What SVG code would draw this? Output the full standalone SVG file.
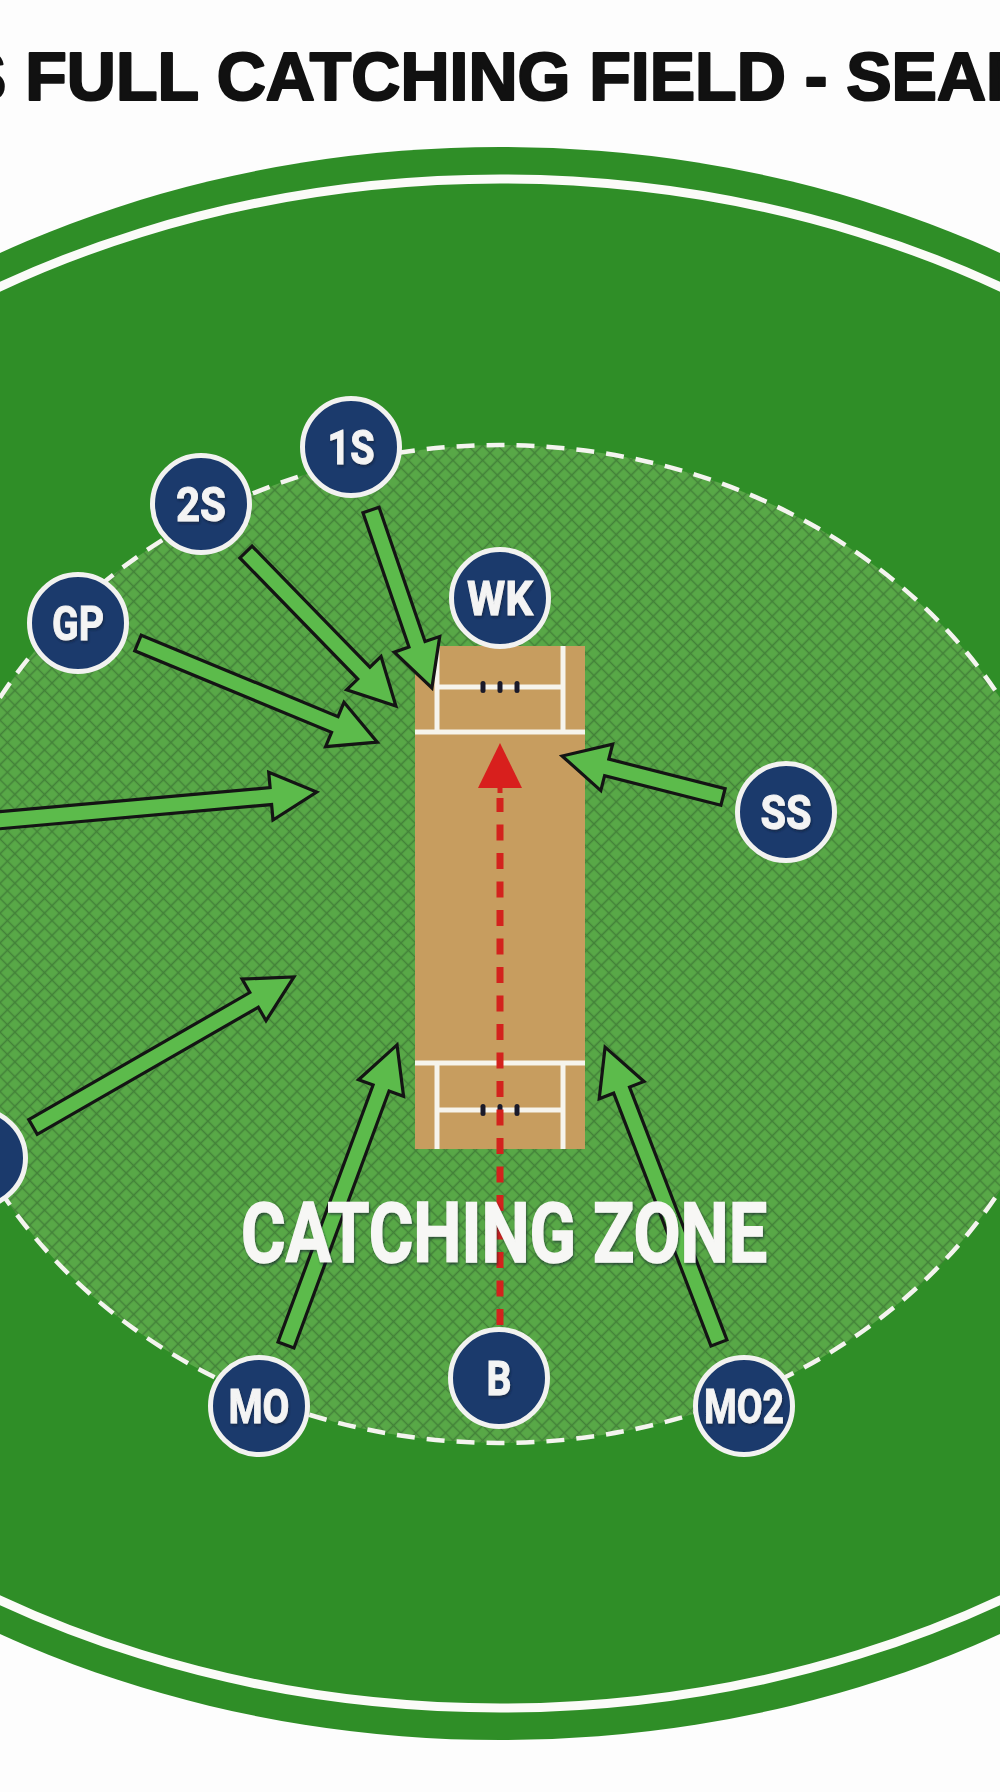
<svg xmlns="http://www.w3.org/2000/svg" width="1000" height="1792" viewBox="0 0 1000 1792">
<style>
.title{font-family:"Liberation Sans",Arial,sans-serif;font-weight:bold;font-size:68px;fill:#111;stroke:#111;stroke-width:2.2;stroke-linejoin:round}
.node circle{fill:#1b3a6c;stroke:#f2f2f0;stroke-width:5}
.node text{font-family:Roboto,"Liberation Sans",sans-serif;font-weight:bold;font-size:48px;fill:#f4f4f4;stroke:#f4f4f4;stroke-width:1;text-anchor:middle;filter:url(#ts)}
.arrow{fill:#5cbb4b;stroke:#141414;stroke-width:3.2;stroke-linejoin:miter}
.crease{stroke:#f6f4ec;stroke-width:5;fill:none}
.stump{fill:#1a1a2a}
.zone-label{font-family:Roboto,"Liberation Sans",sans-serif;font-weight:bold;font-size:83px;fill:#f7f7f5;stroke:#f7f7f5;stroke-width:1.5;filter:url(#ts)}
</style>
<defs>
<pattern id="hatch" width="10.5" height="10.5" patternUnits="userSpaceOnUse" patternTransform="rotate(45)">
<rect width="10.5" height="10.5" fill="#58a847"/>
<path d="M0 5.25H10.5M5.25 0V10.5" stroke="#3a7233" stroke-width="1.6" stroke-opacity="0.7"/>
</pattern>
<filter id="ts" x="-20%" y="-20%" width="140%" height="140%">
<feDropShadow dx="1" dy="2" stdDeviation="1" flood-color="#0a1a30" flood-opacity="0.6"/>
</filter>
</defs>
<rect width="1000" height="1792" fill="#fdfdfd"/>
<g id="title">
<text class="title" x="-39" y="100">S FULL CATCHING FIELD - SEAM</text>
</g>
<g id="field">
<ellipse cx="500" cy="943.5" rx="1003" ry="796.5" fill="#2f8e27"/>
<ellipse cx="500" cy="943.5" rx="976" ry="764.5" fill="none" stroke="#fbfbf8" stroke-width="9"/>
</g>
<g id="catching-zone">
<ellipse cx="500" cy="944" rx="575" ry="499" fill="url(#hatch)" stroke="#f4f4ef" stroke-width="4.5" stroke-dasharray="18 12"/>
</g>
<g id="pitch">
<rect x="415" y="646" width="170" height="503" fill="#c79d5f"/>
<path class="crease" d="M415 732H585M437 646V732M563 646V732M437 687H563"/>
<path class="crease" d="M415 1063H585M437 1063V1149M563 1063V1149M437 1110H563"/>
<rect class="stump" x="480.5" y="681" width="5" height="12" rx="2.5"/>
<rect class="stump" x="497.5" y="681" width="5" height="12" rx="2.5"/>
<rect class="stump" x="514.5" y="681" width="5" height="12" rx="2.5"/>
<rect class="stump" x="480.5" y="1104" width="5" height="12" rx="2.5"/>
<rect class="stump" x="497.5" y="1104" width="5" height="12" rx="2.5"/>
<rect class="stump" x="514.5" y="1104" width="5" height="12" rx="2.5"/>
</g>
<g id="connectors">
<g id="delivery-line">
<line x1="500" y1="1325" x2="500" y2="798" stroke="#d3221d" stroke-width="7" stroke-dasharray="16 12.5"/>
<rect x="497.5" y="785" width="5" height="8" fill="#d3221d"/>
<polygon points="500,743 522,788 478,788" fill="#d81f1d"/>
</g>
<polygon class="arrow" transform="translate(371,510) rotate(71.1)" points="0,-8.5 142,-8.5 142,-24 188,0 142,24 142,8.5 0,8.5"/>
<polygon class="arrow" transform="translate(246,552) rotate(45.8)" points="0,-8.5 169,-8.5 169,-24 215,0 169,24 169,8.5 0,8.5"/>
<polygon class="arrow" transform="translate(138,643) rotate(22.5)" points="0,-8.5 213,-8.5 213,-24 259,0 213,24 213,8.5 0,8.5"/>
<polygon class="arrow" transform="translate(-20,822) rotate(-5.09)" points="0,-8.5 292,-8.5 292,-24 338,0 292,24 292,8.5 0,8.5"/>
<polygon class="arrow" transform="translate(33,1127) rotate(-29.9)" points="0,-8.5 255,-8.5 255,-24 301,0 255,24 255,8.5 0,8.5"/>
<polygon class="arrow" transform="translate(286,1345) rotate(-69.7)" points="0,-8.5 274,-8.5 274,-24 320,0 274,24 274,8.5 0,8.5"/>
<polygon class="arrow" transform="translate(719,1343) rotate(-111.06)" points="0,-8.5 271,-8.5 271,-24 317,0 271,24 271,8.5 0,8.5"/>
<polygon class="arrow" transform="translate(723,797) rotate(-165.7)" points="0,-8.5 120,-8.5 120,-24 166,0 120,24 120,8.5 0,8.5"/>
</g>
<g id="zone-label">
<text class="zone-label" x="241" y="1262" textLength="526" lengthAdjust="spacingAndGlyphs">CATCHING ZONE</text>
</g>
<g id="node-1S" class="node"><circle cx="351" cy="447" r="48.5"/><text x="351" y="464" textLength="47" lengthAdjust="spacingAndGlyphs">1S</text></g>
<g id="node-2S" class="node"><circle cx="201" cy="504" r="48.5"/><text x="201" y="521" textLength="50" lengthAdjust="spacingAndGlyphs">2S</text></g>
<g id="node-GP" class="node"><circle cx="78" cy="623" r="48.5"/><text x="78" y="640" textLength="52" lengthAdjust="spacingAndGlyphs">GP</text></g>
<g id="node-WK" class="node"><circle cx="500" cy="598" r="48.5"/><text x="500" y="615" textLength="66" lengthAdjust="spacingAndGlyphs">WK</text></g>
<g id="node-SS" class="node"><circle cx="786" cy="812" r="48.5"/><text x="786" y="829" textLength="51" lengthAdjust="spacingAndGlyphs">SS</text></g>
<g id="node-B" class="node"><circle cx="499" cy="1378" r="48.5"/><text x="499" y="1395" textLength="25" lengthAdjust="spacingAndGlyphs">B</text></g>
<g id="node-MO" class="node"><circle cx="259" cy="1406" r="48.5"/><text x="259" y="1423" textLength="61" lengthAdjust="spacingAndGlyphs">MO</text></g>
<g id="node-MO2" class="node"><circle cx="744" cy="1406" r="48.5"/><text x="744" y="1423" textLength="80" lengthAdjust="spacingAndGlyphs">MO2</text></g>
<g id="node-offscreen" class="node"><circle cx="-23" cy="1158" r="48.5"/></g>
</svg>
